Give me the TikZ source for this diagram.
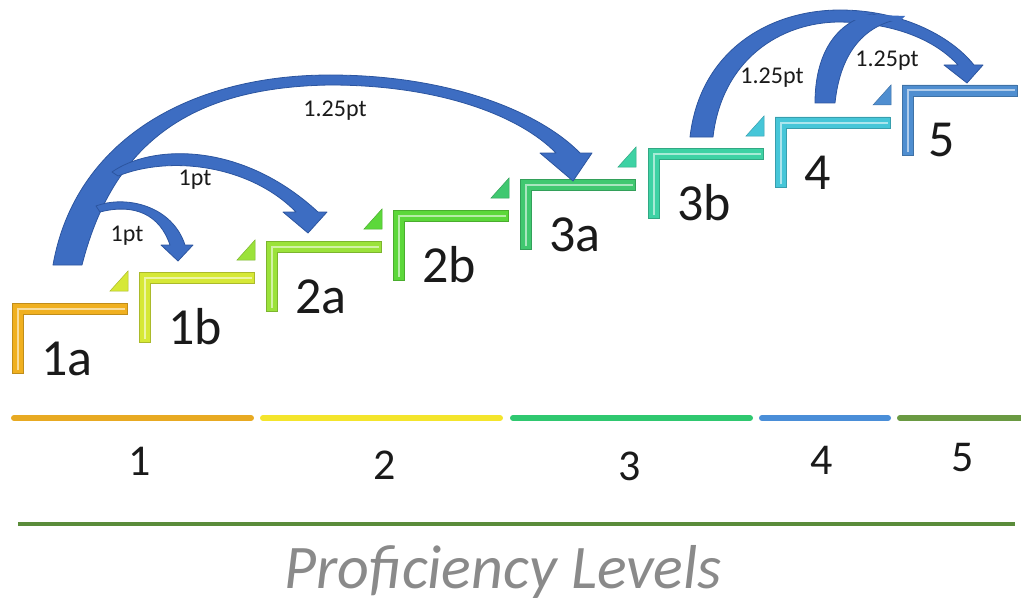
\documentclass[tikz,border=0pt]{standalone}
\usepackage{fontspec}
\setmainfont{Carlito}
\definecolor{c1a}{HTML}{F0B020}
\definecolor{c1b}{HTML}{D6E836}
\definecolor{c2a}{HTML}{9BE23A}
\definecolor{c2b}{HTML}{5CD83A}
\definecolor{c3a}{HTML}{40C870}
\definecolor{c3b}{HTML}{3ED2A4}
\definecolor{c4}{HTML}{46C6D8}
\definecolor{c5}{HTML}{4F8ED0}
\definecolor{arrowblue}{HTML}{3D6DC2}
\definecolor{arrowedge}{HTML}{2C559F}
\definecolor{bar1}{HTML}{E8AA22}
\definecolor{bar2}{HTML}{F4E52C}
\definecolor{bar3}{HTML}{2FC870}
\definecolor{bar4}{HTML}{4A8ED8}
\definecolor{bar5}{HTML}{6A9A42}
\definecolor{greenline}{HTML}{5A8C3A}
\definecolor{titlegray}{HTML}{8A8A8A}
\definecolor{txt}{HTML}{1A1A1A}
\newcommand\stairstep[5]{% name, x0, y0, color, triangle colour
  \coordinate (#1) at (#2,#3);
  \fill[#4, draw=#4!80!black, line width=0.6pt]
    (#1) -- ++(115,0) -- ++(0,11) -- ++(-104,0) -- ++(0,59) -- ++(-11,0) -- cycle;
  \draw[#4!45!white, line width=2pt]
    ({#2+5.5},{#3+67}) -- ({#2+5.5},{#3+5.5}) -- ({#2+113},{#3+5.5});
  \ifx&#5&\else
  \fill[#5, draw=#5!80!black, line width=0.5pt]
    ({#2+98},{#3-12}) -- ({#2+116},{#3-12}) -- ({#2+116},{#3-32}) -- cycle;
  \fi
}
\tikzset{
  steplabel/.style={anchor=base west, inner sep=0pt, text=txt,
    font=\fontsize{52}{52}\selectfont},
  levelnum/.style={anchor=base, inner sep=0pt, text=txt,
    font=\fontsize{44}{44}\selectfont},
  ptlabel/.style={inner sep=0pt, text=txt, font=\fontsize{24}{24}\selectfont},
  blockarrow/.style={fill=arrowblue, draw=arrowedge, line width=0.8pt, line join=round},
  levelbar/.style={line width=6pt, line cap=round},
}
\begin{document}
\begin{tikzpicture}[x=1pt, y=-1pt]
\useasboundingbox (0,0) rectangle (1021,602);

% steps
\stairstep{s1a}{12}{303}{c1a}{c1b}
\stairstep{s1b}{139}{272}{c1b}{c2a}
\stairstep{s2a}{266}{241}{c2a}{c2b}
\stairstep{s2b}{393}{210}{c2b}{c3a}
\stairstep{s3a}{520}{179}{c3a}{c3b}
\stairstep{s3b}{648}{148}{c3b}{c4}
\stairstep{s4}{775}{117}{c4}{c5}
\stairstep{s5}{902}{85}{c5}{}

\node[steplabel] (l1a) at (41,375) {1a};
\node[steplabel] (l1b) at (168,344) {1b};
\node[steplabel] (l2a) at (295,313) {2a};
\node[steplabel] (l2b) at (422,282) {2b};
\node[steplabel] (l3a) at (549,251) {3a};
\node[steplabel] (l3b) at (677,220) {3b};
\node[steplabel] (l4) at (804,189) {4};
\node[steplabel] (l5) at (928,157) {5};

% arrows
\draw[blockarrow] (53,265) .. controls (75,140) and (190,75) .. (330,75)
  .. controls (450,75) and (540,112) .. (580,153) -- (592,153) -- (573,181)
  -- (540,153) -- (556,153) .. controls (520,116) and (440,85) .. (330,85)
  .. controls (200,87) and (115,135) .. (82,265) -- cycle;
\draw[blockarrow] (112,172) .. controls (150,145) and (240,140) .. (318,212)
  -- (327,212) -- (308,233) -- (283,212) -- (296,212)
  .. controls (250,165) and (170,155) .. (118,176) -- cycle;
\draw[blockarrow] (96,206) .. controls (125,195) and (172,205) .. (185,245)
  -- (193,245) -- (178,261) -- (161,245) -- (170,245)
  .. controls (160,215) and (135,203) .. (100,212) -- cycle;
\draw[blockarrow] (690,137) .. controls (700,50) and (770,10) .. (840,10)
  .. controls (900,10) and (950,35) .. (974,65) -- (983,65) -- (967,83)
  -- (944,65) -- (958,65) .. controls (935,40) and (895,23) .. (840,22)
  .. controls (780,22) and (722,60) .. (713,137) -- cycle;
\draw[blockarrow] (815,103) .. controls (815,55) and (835,22) .. (872,14)
  -- (895,20) .. controls (862,28) and (840,55) .. (835,103) -- cycle;
\fill[arrowblue] (840,13.5) -- (905,16) -- (900,21) -- (845,19.5) -- cycle;

\node[ptlabel] (p1) at (127,236) {1pt};
\node[ptlabel] (p2) at (195,180) {1pt};
\node[ptlabel] (p3) at (335,111) {1.25pt};
\node[ptlabel] (p4) at (772,78) {1.25pt};
\node[ptlabel] (p5) at (887,61) {1.25pt};

% level bars
\coordinate (b1l) at (14,418); \coordinate (b1r) at (251,418);
\coordinate (b2l) at (263,418); \coordinate (b2r) at (500,418);
\coordinate (b3l) at (513,418); \coordinate (b3r) at (750,418);
\coordinate (b4l) at (762,418); \coordinate (b4r) at (888,418);
\coordinate (b5l) at (900,418); \coordinate (b5r) at (1024,418);
\draw[levelbar, bar1] (b1l) -- (b1r);
\draw[levelbar, bar2] (b2l) -- (b2r);
\draw[levelbar, bar3] (b3l) -- (b3r);
\draw[levelbar, bar4] (b4l) -- (b4r);
\draw[levelbar, bar5] (b5l) -- (b5r);

\node[levelnum] (n1) at (140,475) {1};
\node[levelnum] (n2) at (385,479) {2};
\node[levelnum] (n3) at (630,480) {3};
\node[levelnum] (n4) at (822,474) {4};
\node[levelnum] (n5) at (963,471) {5};

% base line and title
\coordinate (gl) at (18,524);
\coordinate (gr) at (1015,524);
\draw[greenline, line width=4pt] (gl) -- (gr);
\node[anchor=base, inner sep=0pt, text=titlegray,
  font=\fontsize{62}{62}\selectfont\itshape] (title) at (503,588) {Proficiency Levels};
\end{tikzpicture}
\end{document}
